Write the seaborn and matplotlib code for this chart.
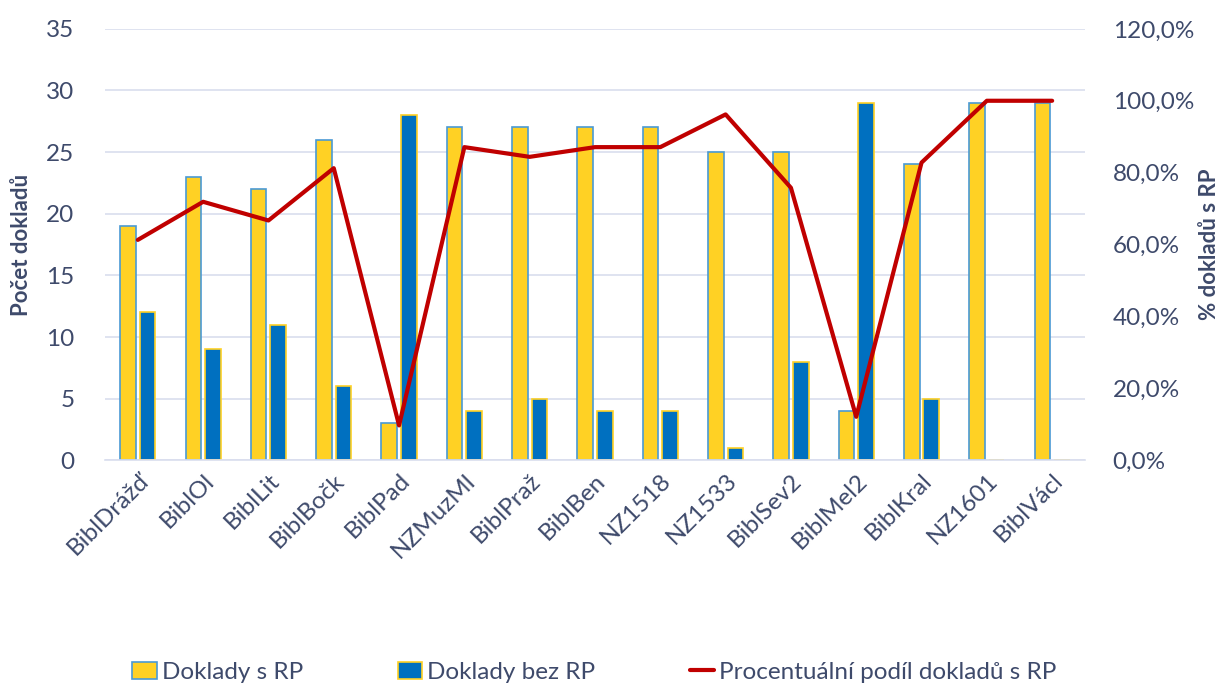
import numpy as np
import pandas as pd
import matplotlib.pyplot as plt
from matplotlib.patches import Patch
from matplotlib.lines import Line2D
from matplotlib.ticker import FuncFormatter
import seaborn as sns

categories = ['BiblDrážď', 'BiblOl', 'BiblLit', 'BiblBočk', 'BiblPad', 'NZMuzMl', 'BiblPraž',
              'BiblBen', 'NZ1518', 'NZ1533', 'BiblSev2', 'BiblMel2', 'BiblKral', 'NZ1601', 'BiblVácl']
s_rp = [19, 23, 22, 26, 3, 27, 27, 27, 27, 25, 25, 4, 24, 29, 29]
bez_rp = [12, 9, 11, 6, 28, 4, 5, 4, 4, 1, 8, 29, 5, 0, 0]
podil = [0.613, 0.719, 0.667, 0.8125, 0.097, 0.871, 0.844, 0.871, 0.871, 0.962, 0.758, 0.121, 0.828, 1.0, 1.0]
series = ['Doklady s RP', 'Doklady bez RP']
line_label = 'Procentuální podíl dokladů s RP'

yellow = '#FFD124'
blue = '#0070C0'
red = '#C00000'
txt = '#3E4A6B'
grid = '#D9DEEE'

sns.set_theme(style='white')
plt.rcParams['font.family'] = ['Lato', 'DejaVu Sans']

df = pd.DataFrame({
    'kat': categories * 2,
    'pocet': s_rp + bez_rp,
    'serie': [series[0]] * len(categories) + [series[1]] * len(categories),
})

fig = plt.figure(figsize=(12.23, 6.87), dpi=100)
ax = fig.add_axes([0.086, 0.330, 0.801, 0.628])
sns.barplot(data=df, x='kat', y='pocet', hue='serie', order=categories, hue_order=series,
            palette=[yellow, blue], width=0.6, gap=0.2, ax=ax, legend=False, saturation=1)
# edges: yellow bars blue edge, blue bars yellow edge
n = len(categories)
for i, p in enumerate(ax.patches):
    if i < n:
        p.set_edgecolor('#4A9AD4')
    else:
        p.set_edgecolor(yellow)
    p.set_linewidth(1.2)

ax.set_ylim(0, 35)
ax.set_yticks(range(0, 36, 5))
ax.set_xlim(-0.5, n - 0.5)
ax.grid(axis='y', color=grid, linewidth=1.2)
ax.set_axisbelow(True)
for s in ['top', 'right', 'left']:
    ax.spines[s].set_visible(False)
ax.spines['bottom'].set_color(grid)
ax.spines['bottom'].set_linewidth(1.2)
ax.tick_params(axis='both', length=0, labelsize=17.5, colors=txt)
ax.tick_params(axis='y', pad=22)
ax.set_xlabel('')
ax.set_ylabel('Počet dokladů', fontsize=16, fontweight='bold', color=txt, va='center')
ax.yaxis.set_label_coords(-0.085, 0.5)
plt.setp(ax.get_xticklabels(), rotation=45, ha='right', rotation_mode='anchor')
ax.tick_params(axis='x', pad=7)

ax2 = ax.twinx()
sns.lineplot(x=np.arange(n), y=podil, ax=ax2, color=red, linewidth=3, sort=False)
ax2.set_ylim(0, 1.2)
ax2.set_yticks(np.arange(0, 1.21, 0.2))
ax2.yaxis.set_major_formatter(FuncFormatter(lambda v, _: f'{v * 100:.1f}%'.replace('.', ',')))
for s in ax2.spines.values():
    s.set_visible(False)
ax2.tick_params(axis='y', length=0, labelsize=17.5, colors=txt, pad=20)
ax2.set_ylabel('% dokladů s RP', fontsize=16, fontweight='bold', color=txt, va='center')
ax2.yaxis.set_label_coords(1.127, 0.5)

handles = [Patch(facecolor=yellow, edgecolor='#4A9AD4', linewidth=1.2),
           Patch(facecolor=blue, edgecolor=yellow, linewidth=1.2),
           Line2D([0], [0], color=red, linewidth=3)]
fig.legend(handles, series + [line_label], loc='lower center', bbox_to_anchor=(0.486, -0.026),
           ncol=3, frameon=False, fontsize=17.5, labelcolor=txt, handlelength=1.0,
           handletextpad=0.2, columnspacing=3.9)

fig.savefig('out.png', dpi=100)
